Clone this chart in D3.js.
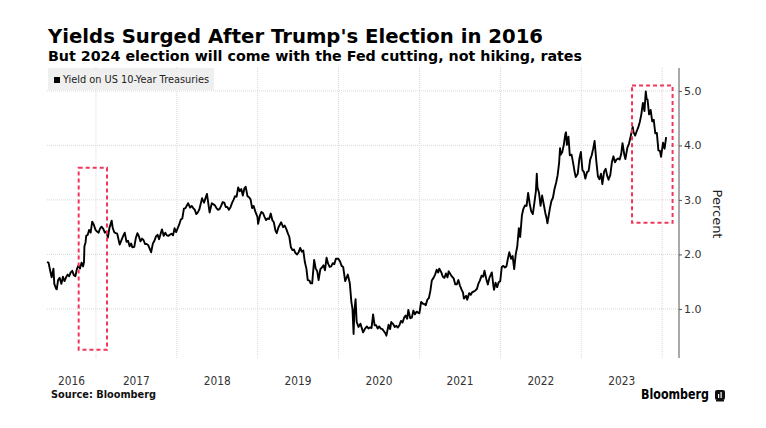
<!DOCTYPE html>
<html><head><meta charset="utf-8">
<script src="https://cdn.jsdelivr.net/npm/d3@7"></script>
<style>
html,body{margin:0;padding:0;background:#fff;}
svg{display:block;font-family:"DejaVu Sans",Verdana,sans-serif;}
</style></head>
<body><svg id="c" width="766" height="428"></svg>
<script>
// ---- data ----
const dates = [
"2016-05-25","2016-06-01","2016-06-08","2016-06-15","2016-06-23","2016-06-27","2016-07-05","2016-07-08","2016-07-14","2016-07-21","2016-07-29","2016-08-05","2016-08-12","2016-08-19","2016-08-26","2016-09-02","2016-09-09","2016-09-16","2016-09-23","2016-09-30","2016-10-07","2016-10-14","2016-10-21","2016-10-28","2016-11-04","2016-11-08","2016-11-10","2016-11-15","2016-11-18","2016-11-25","2016-12-01","2016-12-08","2016-12-15","2016-12-22","2016-12-30",
"2017-01-06","2017-01-13","2017-01-19","2017-01-26","2017-02-03","2017-02-10","2017-02-17","2017-02-24","2017-03-03","2017-03-13","2017-03-17","2017-03-24","2017-03-31","2017-04-07","2017-04-18","2017-04-28","2017-05-05","2017-05-11","2017-05-19","2017-05-26","2017-06-02","2017-06-09","2017-06-14","2017-06-23","2017-06-30","2017-07-07","2017-07-14","2017-07-21","2017-07-28","2017-08-04","2017-08-11","2017-08-18","2017-08-25","2017-09-07","2017-09-15","2017-09-22","2017-09-29","2017-10-06","2017-10-13","2017-10-20","2017-10-26","2017-11-03","2017-11-10","2017-11-17","2017-11-24","2017-12-01","2017-12-08","2017-12-15","2017-12-22","2017-12-29",
"2018-01-05","2018-01-12","2018-01-19","2018-01-26","2018-02-02","2018-02-09","2018-02-21","2018-03-02","2018-03-09","2018-03-16","2018-03-23","2018-03-30","2018-04-06","2018-04-13","2018-04-25","2018-05-04","2018-05-17","2018-05-29","2018-06-08","2018-06-15","2018-06-22","2018-06-29","2018-07-06","2018-07-13","2018-07-20","2018-07-27","2018-08-03","2018-08-10","2018-08-17","2018-08-24","2018-08-31","2018-09-07","2018-09-14","2018-09-21","2018-09-28","2018-10-05","2018-10-12","2018-10-19","2018-10-26","2018-11-02","2018-11-08","2018-11-16","2018-11-23","2018-11-30","2018-12-07","2018-12-14","2018-12-21","2018-12-31",
"2019-01-03","2019-01-11","2019-01-18","2019-01-25","2019-02-01","2019-02-08","2019-02-15","2019-02-22","2019-03-01","2019-03-08","2019-03-15","2019-03-22","2019-03-28","2019-04-05","2019-04-17","2019-04-26","2019-05-03","2019-05-10","2019-05-17","2019-05-24","2019-05-31","2019-06-07","2019-06-14","2019-06-20","2019-06-28","2019-07-05","2019-07-12","2019-07-19","2019-07-26","2019-08-02","2019-08-09","2019-08-15","2019-08-23","2019-08-28","2019-09-04","2019-09-13","2019-09-20","2019-09-27","2019-10-03","2019-10-11","2019-10-18","2019-10-25","2019-11-01","2019-11-08","2019-11-15","2019-11-22","2019-11-29","2019-12-06","2019-12-13","2019-12-20","2019-12-31",
"2020-01-08","2020-01-15","2020-01-22","2020-01-31","2020-02-07","2020-02-12","2020-02-21","2020-02-28","2020-03-04","2020-03-09","2020-03-13","2020-03-18","2020-03-23","2020-03-31","2020-04-09","2020-04-21","2020-04-30","2020-05-08","2020-05-15","2020-05-22","2020-05-29","2020-06-05","2020-06-12","2020-06-19","2020-06-26","2020-07-02","2020-07-10","2020-07-17","2020-07-24","2020-07-31","2020-08-04","2020-08-14","2020-08-21","2020-08-26","2020-09-04","2020-09-11","2020-09-18","2020-09-25","2020-10-02","2020-10-09","2020-10-16","2020-10-23","2020-10-30","2020-11-06","2020-11-11","2020-11-20","2020-11-27","2020-12-04","2020-12-11","2020-12-18","2020-12-31",
"2021-01-08","2021-01-15","2021-01-22","2021-01-29","2021-02-05","2021-02-12","2021-02-19","2021-02-25","2021-03-05","2021-03-12","2021-03-19","2021-03-26","2021-03-31","2021-04-09","2021-04-16","2021-04-23","2021-04-30","2021-05-07","2021-05-12","2021-05-21","2021-05-28","2021-06-04","2021-06-11","2021-06-18","2021-06-25","2021-07-02","2021-07-09","2021-07-16","2021-07-20","2021-07-30","2021-08-04","2021-08-13","2021-08-20","2021-08-27","2021-09-03","2021-09-10","2021-09-17","2021-09-24","2021-09-30","2021-10-08","2021-10-15","2021-10-21","2021-10-29","2021-11-05","2021-11-12","2021-11-23","2021-11-30","2021-12-03","2021-12-10","2021-12-17","2021-12-24","2021-12-31",
"2022-01-07","2022-01-14","2022-01-21","2022-01-28","2022-02-04","2022-02-10","2022-02-18","2022-02-25","2022-03-04","2022-03-11","2022-03-18","2022-03-25","2022-03-31","2022-04-08","2022-04-14","2022-04-22","2022-04-29","2022-05-06","2022-05-13","2022-05-20","2022-05-27","2022-06-03","2022-06-10","2022-06-14","2022-06-17","2022-06-24","2022-07-01","2022-07-08","2022-07-15","2022-07-22","2022-07-29","2022-08-01","2022-08-12","2022-08-19","2022-08-26","2022-09-02","2022-09-09","2022-09-16","2022-09-23","2022-09-27","2022-09-30","2022-10-07","2022-10-14","2022-10-21","2022-10-24","2022-10-28","2022-11-04","2022-11-10","2022-11-18","2022-11-25","2022-12-02","2022-12-07","2022-12-16","2022-12-23","2022-12-30",
"2023-01-06","2023-01-13","2023-01-19","2023-01-27","2023-02-03","2023-02-10","2023-02-17","2023-02-24","2023-03-02","2023-03-10","2023-03-17","2023-03-24","2023-03-31","2023-04-06","2023-04-14","2023-04-21","2023-04-28","2023-05-04","2023-05-12","2023-05-19","2023-05-26","2023-06-02","2023-06-09","2023-06-16","2023-06-23","2023-06-30","2023-07-06","2023-07-14","2023-07-19","2023-07-28","2023-08-04","2023-08-11","2023-08-21","2023-08-25","2023-09-01","2023-09-08","2023-09-15","2023-09-22","2023-09-29","2023-10-06","2023-10-13","2023-10-19","2023-10-23","2023-10-27","2023-11-03","2023-11-10","2023-11-17","2023-11-24","2023-12-01","2023-12-08","2023-12-15","2023-12-22","2023-12-27",
"2024-01-05","2024-01-12","2024-01-19"
];
const yields = [
1.86,1.85,1.71,1.58,1.74,1.46,1.37,1.36,1.53,1.57,1.46,1.59,1.51,1.58,1.63,1.60,1.67,1.70,1.62,1.60,1.73,1.80,1.74,1.85,1.78,1.86,2.15,2.22,2.34,2.36,2.45,2.40,2.60,2.55,2.45,
2.42,2.40,2.47,2.51,2.47,2.40,2.42,2.31,2.49,2.62,2.50,2.41,2.39,2.38,2.18,2.28,2.35,2.40,2.23,2.25,2.15,2.20,2.13,2.14,2.30,2.39,2.33,2.24,2.29,2.26,2.19,2.19,2.17,2.04,2.20,2.25,2.33,2.36,2.28,2.38,2.46,2.34,2.40,2.35,2.34,2.36,2.38,2.35,2.48,2.41,
2.48,2.55,2.64,2.66,2.84,2.85,2.94,2.86,2.89,2.85,2.82,2.74,2.77,2.83,3.03,2.95,3.11,2.77,2.94,2.92,2.90,2.85,2.82,2.83,2.89,2.96,2.95,2.87,2.87,2.82,2.86,2.94,3.00,3.07,3.06,3.23,3.16,3.20,3.08,3.21,3.24,3.07,3.05,3.01,2.85,2.89,2.79,2.69,
2.56,2.71,2.78,2.76,2.69,2.63,2.66,2.65,2.75,2.63,2.59,2.44,2.39,2.50,2.59,2.50,2.53,2.47,2.39,2.32,2.13,2.08,2.09,2.03,2.00,2.04,2.12,2.05,2.07,1.86,1.74,1.53,1.52,1.47,1.47,1.90,1.74,1.69,1.53,1.73,1.76,1.80,1.71,1.94,1.83,1.77,1.78,1.84,1.82,1.92,1.92,
1.87,1.79,1.77,1.51,1.58,1.63,1.47,1.13,1.00,0.54,0.98,1.18,0.76,0.67,0.73,0.57,0.64,0.68,0.64,0.66,0.65,0.90,0.70,0.70,0.64,0.68,0.64,0.63,0.59,0.55,0.51,0.71,0.63,0.76,0.72,0.67,0.69,0.66,0.70,0.78,0.75,0.84,0.88,0.82,0.98,0.83,0.84,0.97,0.90,0.95,0.92,
1.13,1.10,1.09,1.07,1.17,1.20,1.34,1.52,1.57,1.63,1.72,1.67,1.74,1.67,1.59,1.57,1.65,1.58,1.69,1.63,1.59,1.56,1.45,1.45,1.53,1.43,1.36,1.30,1.19,1.24,1.17,1.29,1.26,1.31,1.32,1.34,1.37,1.47,1.52,1.61,1.59,1.70,1.55,1.45,1.57,1.67,1.43,1.35,1.48,1.40,1.49,1.51,
1.77,1.79,1.76,1.78,1.93,2.04,1.92,1.97,1.73,2.00,2.15,2.48,2.32,2.72,2.83,2.90,2.89,3.13,2.93,2.79,2.74,2.94,3.16,3.48,3.23,3.13,2.89,3.08,2.93,2.77,2.65,2.57,2.84,2.98,3.04,3.20,3.31,3.45,3.69,3.95,3.83,3.88,4.01,4.21,4.24,4.01,4.16,3.82,3.83,3.68,3.51,3.42,3.48,3.75,3.88,
3.55,3.51,3.39,3.51,3.53,3.74,3.82,3.95,4.08,3.70,3.43,3.38,3.48,3.29,3.52,3.57,3.44,3.37,3.46,3.69,3.80,3.69,3.74,3.76,3.74,3.84,4.04,3.83,3.75,3.96,4.03,4.15,4.34,4.24,4.18,4.26,4.33,4.43,4.57,4.78,4.63,4.99,4.85,4.84,4.57,4.65,4.44,4.47,4.22,4.23,3.91,3.90,3.79,
4.05,3.94,4.15
];
const yearLabels = [2016,2017,2018,2019,2020,2021,2022,2023];
const yTicks = [1,2,3,4,5];
// highlight boxes: [startDate, endDate, low, high]
const boxStarts = ["2016-10-15","2023-08-18"];
const boxEnds = ["2017-02-20","2024-02-17"];
const boxLows = [0.25,2.58];
const boxHighs = [3.59,5.10];

const titleText = "Yields Surged After Trump's Election in 2016";
const subtitleText = "But 2024 election will come with the Fed cutting, not hiking, rates";
const legendText = "Yield on US 10-Year Treasuries";
const axisTitle = "Percent";
const sourceText = "Source: Bloomberg";
const brandText = "Bloomberg";

// ---- chart ----
const parse = d3.timeParse("%Y-%m-%d");
const data = dates.map((d,i)=>({date:parse(d), v:yields[i]}));
const svg = d3.select("#c");
const L=47, R=679, T=68, B=358;
const x = d3.scaleTime().domain([parse("2016-05-25"), parse("2024-03-17")]).range([L,R]);
const y = d3.scaleLinear().domain([0.1,5.42]).range([B,T]);

// gridlines
const yearStarts = d3.range(2017,2025).map(yr=>new Date(yr,0,1));
svg.append("g").selectAll("line").data(yearStarts).join("line")
  .attr("x1",d=>x(d)).attr("x2",d=>x(d)).attr("y1",T-1).attr("y2",B)
  .attr("stroke","#d9d9d9").attr("stroke-width",1).attr("stroke-dasharray","1,1");
svg.append("g").selectAll("line").data(yTicks).join("line")
  .attr("x1",L).attr("x2",R).attr("y1",d=>y(d)).attr("y2",d=>y(d))
  .attr("stroke","#d9d9d9").attr("stroke-width",1).attr("stroke-dasharray","1,1");

// legend
svg.append("rect").attr("x",48).attr("y",68).attr("width",166).attr("height",22).attr("fill","#efefef");
svg.append("rect").attr("x",54).attr("y",77).attr("width",6).attr("height",6).attr("fill","#000");
svg.append("text").attr("x",63).attr("y",83).attr("font-size",10).attr("fill","#222")
  .attr("textLength",146).attr("lengthAdjust","spacingAndGlyphs").text(legendText);

// line
const line = d3.line().x(d=>x(d.date)).y(d=>y(d.v)).curve(d3.curveLinear);
svg.append("path").datum(data).attr("d",line).attr("fill","none")
  .attr("stroke","#000").attr("stroke-width",1.9).attr("stroke-linejoin","round");

// highlight boxes
svg.append("g").selectAll("rect").data(boxStarts).join("rect")
  .attr("x",(d,i)=>x(parse(d)))
  .attr("y",(d,i)=>y(boxHighs[i]))
  .attr("width",(d,i)=>x(parse(boxEnds[i]))-x(parse(d)))
  .attr("height",(d,i)=>y(boxLows[i])-y(boxHighs[i]))
  .attr("fill","none").attr("stroke","#f0365a").attr("stroke-width",2)
  .attr("stroke-dasharray","4,3");

// right axis
const yAxis = d3.axisRight(y).tickValues(yTicks).tickFormat(d3.format(".1f")).tickSize(3).tickPadding(2);
const ya = svg.append("g").attr("transform",`translate(${R},0)`).call(yAxis);
ya.select(".domain").attr("d",`M0,${T}V${B}`).attr("stroke","#555");
ya.selectAll(".tick line").attr("stroke","#555");
ya.selectAll(".tick text").attr("font-size",11).attr("fill","#333").attr("font-family","DejaVu Sans");

// x labels centered in each year's visible span
const [d0,d1] = x.domain();
svg.append("g").selectAll("text").data(yearLabels).join("text")
  .attr("x",yr=>{
    const a = Math.max(x(new Date(yr,0,1)), x(d0));
    const b = Math.min(x(new Date(yr+1,0,1)), x(d1));
    return (a+b)/2;})
  .attr("y",385).attr("text-anchor","middle").attr("font-size",12).attr("fill","#333")
  .attr("textLength",27).attr("lengthAdjust","spacingAndGlyphs")
  .text(d=>d);

// axis title
svg.append("text").attr("transform","translate(713,214) rotate(90)").attr("text-anchor","middle")
  .attr("font-size",13).attr("fill","#222").text(axisTitle);

// titles
svg.append("text").attr("x",48).attr("y",43).attr("font-size",20).attr("font-weight","bold").attr("fill","#000")
  .attr("textLength",495).attr("lengthAdjust","spacingAndGlyphs").text(titleText);
svg.append("text").attr("x",48).attr("y",61).attr("font-size",14).attr("font-weight","bold").attr("fill","#000")
  .attr("textLength",534).attr("lengthAdjust","spacingAndGlyphs").text(subtitleText);

// footer
svg.append("text").attr("x",51).attr("y",398).attr("font-size",10.5).attr("font-weight","bold").attr("fill","#111")
  .attr("textLength",105).attr("lengthAdjust","spacingAndGlyphs").text(sourceText);
svg.append("text").attr("x",641).attr("y",399).attr("font-size",14).attr("font-weight","bold").attr("fill","#000")
  .attr("textLength",68).attr("lengthAdjust","spacingAndGlyphs").text(brandText);
const ic = svg.append("g").attr("transform","translate(715,390)");
ic.append("rect").attr("width",10).attr("height",10).attr("rx",2).attr("fill","#111");
ic.append("rect").attr("x",3).attr("y",4).attr("width",1.2).attr("height",4).attr("fill","#fff");
ic.append("rect").attr("x",5.5).attr("y",2).attr("width",1.2).attr("height",6).attr("fill","#fff");
ic.append("rect").attr("x",1).attr("y",10).attr("width",8).attr("height",1.5).attr("fill","#111");
</script></body></html>
